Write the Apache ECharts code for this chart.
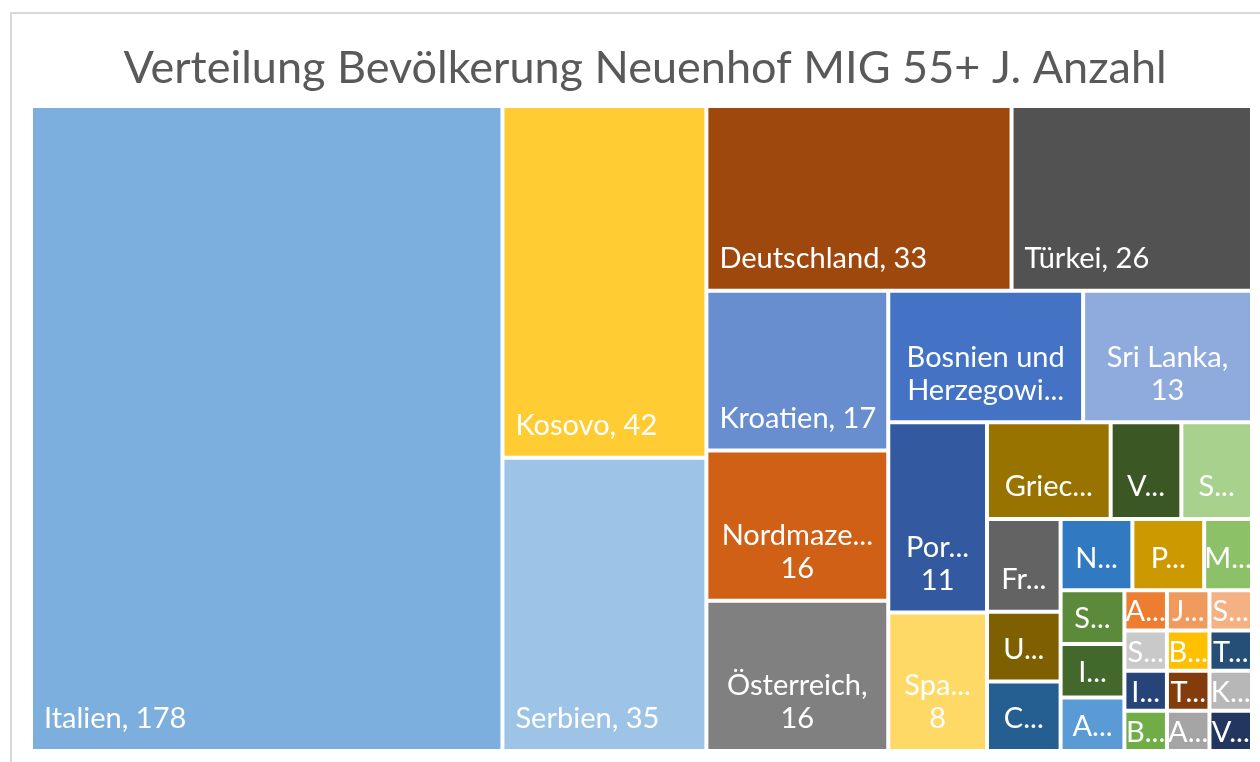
<!DOCTYPE html>
<html>
<head>
<meta charset="utf-8">
<script src="https://cdn.jsdelivr.net/npm/echarts@6/dist/echarts.min.js"></script>
<style>
html,body{margin:0;padding:0;background:#fff;}
#c{width:1260px;height:762px;}
</style>
</head>
<body>
<div id="c"></div>
<script>
const titleText = 'Verteilung Bevölkerung Neuenhof MIG 55+ J. Anzahl';
const countries = ['Italien','Kosovo','Serbien','Deutschland','Türkei','Kroatien','Nordmazedonien','Österreich','Bosnien und Herzegowina','Sri Lanka','Portugal','Spanien','Griechenland','Vietnam','Slowenien','Frankreich','Ungarn','China','Niederlande','Polen','Montenegro','Slowakei','Indien','Albanien','Algerien','Japan','Schweden','Syrien','Irak','Belgien','Brasilien','Tunesien','Thailand','Argentinien','Kanada','Vereinigte Staaten'];
const counts = [178,42,35,33,26,17,16,16,15,13,11,8,7,4,4,4,3,3,3,3,2,2,2,2,1,1,1,1,1,1,1,1,1,1,1,1];
const colors = ['#7CAEDE','#FFCC33','#9DC3E6','#9E480E','#525252','#698ED0','#D06015','#808080','#4472C4','#8FAADC','#335AA1','#FFD966','#997300','#3A5724','#A9D18E','#636363','#7F6000','#255E91','#3179C0','#CC9A00','#8CC168','#5A8A3A','#43682B','#5B9BD5','#ED7D31','#F19A5E','#F4B183','#C9C9C9','#264478','#70AD47','#FFC000','#264F78','#843C0C','#A5A5A5','#B7B7B7','#23365F'];
// how the sorted items are grouped into successive strips (Excel-like slice layout)
const stripSizes = [1,2,2,3,2,2,3,3,3,3,12];

const FONT_SIZE = 29, FONT = FONT_SIZE + 'px Lato', LH = 33;
const ctx = document.createElement('canvas').getContext('2d');
ctx.font = FONT;
const tw = s => ctx.measureText(s).width;
function forceTrunc(s, avail){
  let k = s.length - 1;
  while (k > 1 && tw(s.slice(0,k).replace(/[\s,]+$/,'') + '...') > avail) k--;
  return s.slice(0,k).replace(/[\s,]+$/,'') + '...';
}
function trunc(s, avail){
  return tw(s) <= avail ? s : forceTrunc(s, avail);
}
// Excel-like label text: wrap words, truncate, limit lines by cell height
function makeLabel(name, value, w, h){
  const full = name + ', ' + value;
  const fitAvail = w - 18, avail = w - 24;
  if (tw(full) <= fitAvail) return {lines:[full], left:true};
  const words = full.split(' ');
  let lines = [], cur = '';
  for (const wd of words){
    const t = cur ? cur + ' ' + wd : wd;
    if (tw(t) <= avail) cur = t; else { if (cur) lines.push(cur); cur = wd; }
  }
  if (cur) lines.push(cur);
  const maxLines = Math.max(1, Math.floor((h - 24) / 36));
  if (lines.length > maxLines){
    const rest = lines.slice(maxLines - 1).join(' ');
    lines = lines.slice(0, maxLines - 1).concat([forceTrunc(rest, avail)]);
  }
  lines = lines.map(l => trunc(l, avail));
  return {lines, left:false};
}

function leaf(i, layouts){
  const n = countries[i];
  const item = {name:n, value:counts[i], itemStyle:{color:colors[i]}};
  const L = layouts && layouts[n];
  if (L){
    const lab = makeLabel(n, counts[i], L.width, L.height);
    const lh = lab.lines.length > 1 ? LH : Math.min(LH, L.height - 2);
    const capFromBottom = Math.min(30, L.height/2 - 2);
    const pb = Math.max(0, capFromBottom - lh/2);
    item.label = {
      formatter: lab.lines.join('\n'),
      lineHeight: lh,
      position: lab.left ? 'insideBottomLeft' : 'insideBottom',
      align: lab.left ? 'left' : 'center',
      padding: lab.left ? [0,0,pb,11] : [0,0,pb,0],
      overflow: 'none'
    };
  }
  return item;
}
function build(start, si, layouts){
  const size = stripSizes[si];
  const items = [];
  for (let k=0;k<size;k++) items.push(leaf(start+k, layouts));
  if (si === stripSizes.length-1) return items;
  const strip = size === 1 ? items[0] : {name:'', children:items};
  return [strip, {name:'', children:build(start+size, si+1, layouts)}];
}

const chart = echarts.init(document.getElementById('c'));
function option(data){
  return {
    backgroundColor:'#fff',
    animation:false,
    title:{text:titleText,left:640,textAlign:'center',top:41,textStyle:{fontFamily:'Lato',fontWeight:'normal',fontSize:45,color:'#595959'}},
    graphic:[{type:'rect',shape:{x:11,y:13,width:1300,height:800},style:{fill:'none',stroke:'#D9D9D9',lineWidth:2},silent:true}],
    series:[{
      type:'treemap',
      left:33,top:108,width:1217,height:641,
      roam:false,nodeClick:false,
      breadcrumb:{show:false},
      sort:false,
      squareRatio:1,
      itemStyle:{gapWidth:4,borderWidth:0,borderColor:'#fff'},
      label:{show:true,position:'insideBottomLeft',distance:0,color:'#fff',fontFamily:'Lato',fontSize:FONT_SIZE,lineHeight:LH,overflow:'none'},
      upperLabel:{show:false},
      data:data
    }]
  };
}
// pass 1: let ECharts lay out the treemap
chart.setOption(option(build(0,0,null)));
// pass 2: read each cell's size from the library layout to fit the labels like Excel
const layouts = {};
try {
  const tree = chart.getModel().getSeriesByIndex(0).getData().tree;
  tree.root.eachNode(function(node){
    if (!node.children || !node.children.length){
      const l = node.getLayout();
      if (l && node.name) layouts[node.name] = {width:l.width, height:l.height};
    }
  });
} catch(e) {}
chart.setOption(option(build(0,0,layouts)), {replaceMerge:['series']});
</script>
</body>
</html>
